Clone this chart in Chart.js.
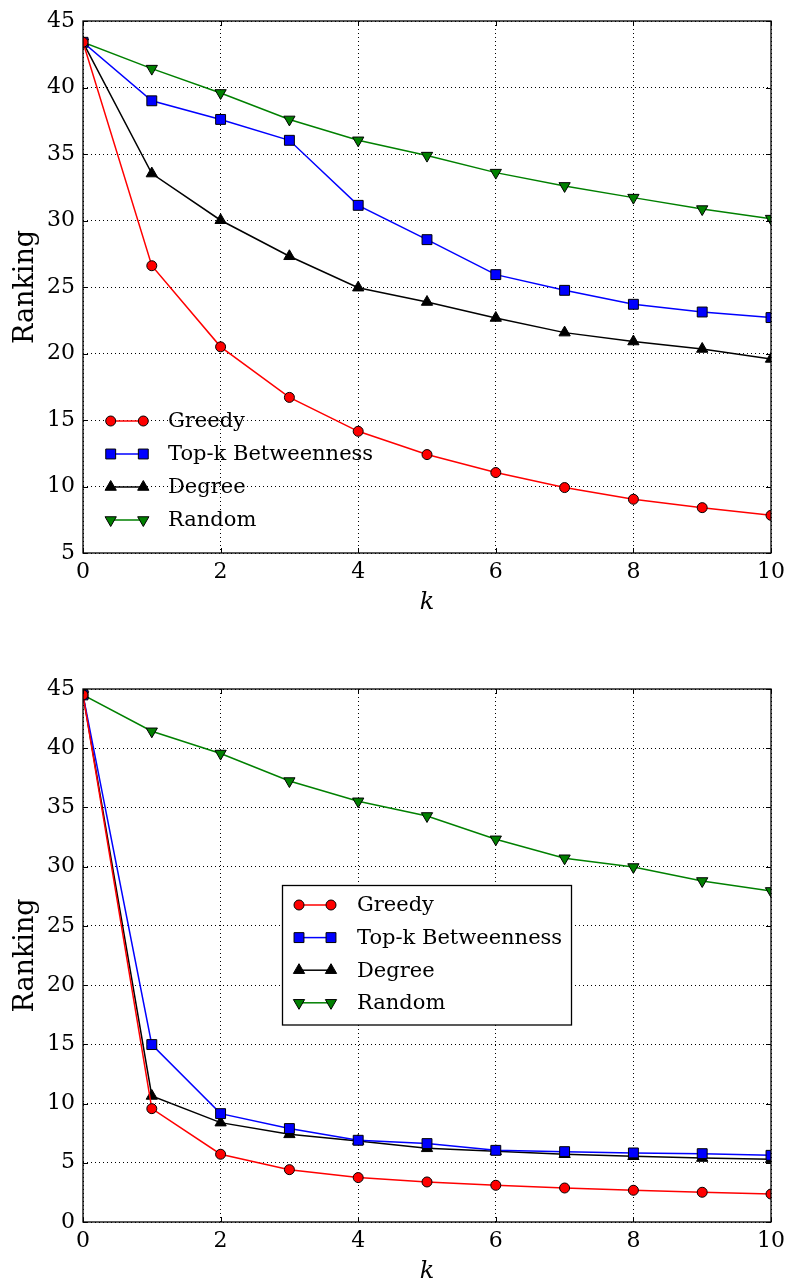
<!DOCTYPE html>
<html>
<head>
<meta charset="utf-8">
<script src="https://cdn.jsdelivr.net/npm/chart.js@4.4.1/dist/chart.umd.min.js"></script>
<style>
  html, body { margin: 0; padding: 0; background: #fff; }
  #wrap { position: relative; width: 788px; height: 1285px; }
  canvas { position: absolute; left: 0; }
</style>
</head>
<body>
<div id="wrap">
  <canvas id="c1" width="788" height="616" style="top:0px"></canvas>
  <canvas id="c2" width="788" height="635" style="top:650px"></canvas>
</div>
<script>
// ---- data ----
const kValues = [0, 1, 2, 3, 4, 5, 6, 7, 8, 9, 10];
const seriesNames = ['Greedy', 'Top-k Betweenness', 'Degree', 'Random'];

const topGreedy      = [43.4, 26.6, 20.5, 16.7, 14.15, 12.4, 11.05, 9.92, 9.04, 8.41, 7.83];
const topBetweenness = [43.4, 39.0, 37.6, 36.03, 31.14, 28.56, 25.93, 24.75, 23.7, 23.12, 22.7];
const topDegree      = [43.4, 33.53, 30.02, 27.31, 24.95, 23.87, 22.67, 21.57, 20.9, 20.34, 19.59];
const topRandom      = [43.4, 41.42, 39.59, 37.6, 36.03, 34.88, 33.6, 32.6, 31.72, 30.86, 30.14];

const bottomGreedy      = [44.5, 9.57, 5.72, 4.42, 3.75, 3.38, 3.1, 2.87, 2.68, 2.51, 2.36];
const bottomBetweenness = [44.5, 14.98, 9.15, 7.89, 6.9, 6.62, 6.05, 5.94, 5.83, 5.77, 5.63];
const bottomDegree      = [44.5, 10.64, 8.39, 7.4, 6.84, 6.22, 5.97, 5.72, 5.55, 5.4, 5.29];
const bottomRandom      = [44.5, 41.43, 39.55, 37.23, 35.52, 34.28, 32.31, 30.71, 29.97, 28.79, 27.95];

const xTicks = [0, 2, 4, 6, 8, 10];
const yTicksTop = [5, 10, 15, 20, 25, 30, 35, 40, 45];
const yTicksBottom = [0, 5, 10, 15, 20, 25, 30, 35, 40, 45];

// ---- styles ----
const FONT = '"DejaVu Serif", "Liberation Serif", serif';
const styles = [
  { color: '#ff0000', pointStyle: 'circle',   radius: 5,   rotation: 0 },
  { color: '#0000ff', pointStyle: 'rect',     radius: 7,   rotation: 0 },
  { color: '#000000', pointStyle: 'triangle', radius: 6.5, rotation: 0 },
  { color: '#008000', pointStyle: 'triangle', radius: 6.5, rotation: 180 }
];

function makeDatasets(arrs) {
  return arrs.map((vals, i) => ({
    label: seriesNames[i],
    data: kValues.map((k, j) => ({ x: k, y: vals[j] })),
    borderColor: styles[i].color,
    backgroundColor: styles[i].color,
    pointBackgroundColor: styles[i].color,
    pointBorderColor: '#000',
    pointBorderWidth: 1,
    pointStyle: styles[i].pointStyle,
    pointRadius: styles[i].radius,
    pointRotation: styles[i].rotation,
    borderWidth: 1.5,
    tension: 0,
    clip: 0
  }));
}

const framePlugin = {
  id: 'frame',
  afterDatasetsDraw(chart) {
    const { ctx, chartArea: a, scales } = chart;
    ctx.save();
    ctx.strokeStyle = '#000';
    ctx.lineWidth = 1;
    ctx.setLineDash([]);
    const L = 5;
    ctx.beginPath();
    scales.x.ticks.forEach(t => {
      const px = Math.round(scales.x.getPixelForValue(t.value)) + 0.5;
      ctx.moveTo(px, a.bottom); ctx.lineTo(px, a.bottom - L);
      ctx.moveTo(px, a.top); ctx.lineTo(px, a.top + L);
    });
    scales.y.ticks.forEach(t => {
      const py = Math.round(scales.y.getPixelForValue(t.value)) + 0.5;
      ctx.moveTo(a.left, py); ctx.lineTo(a.left + L, py);
      ctx.moveTo(a.right, py); ctx.lineTo(a.right - L, py);
    });
    ctx.stroke();
    ctx.lineWidth = 1.3;
    ctx.strokeRect(a.left, a.top, a.right - a.left, a.bottom - a.top);
    ctx.restore();
  }
};

const legendPlugin = {
  id: 'pltLegend',
  afterDraw(chart, args, opts) {
    const { ctx } = chart;
    ctx.save();
    if (opts.frame) {
      const f = opts.frame;
      ctx.fillStyle = '#fff';
      ctx.fillRect(f.x, f.y, f.w, f.h);
      ctx.strokeStyle = '#000';
      ctx.lineWidth = 1.3;
      ctx.strokeRect(f.x, f.y, f.w, f.h);
    }
    chart.data.datasets.forEach((ds, i) => {
      const y = opts.y + i * opts.rowH;
      ctx.strokeStyle = ds.borderColor;
      ctx.lineWidth = ds.borderWidth;
      ctx.beginPath();
      ctx.moveTo(opts.x1, y); ctx.lineTo(opts.x2, y);
      ctx.stroke();
      const ps = {
        pointStyle: ds.pointStyle, radius: ds.pointRadius, rotation: ds.pointRotation,
        borderWidth: 1
      };
      ctx.fillStyle = ds.pointBackgroundColor;
      ctx.strokeStyle = '#000';
      ctx.lineWidth = 1;
      Chart.helpers.drawPoint(ctx, ps, opts.x1, y);
      ctx.fillStyle = ds.pointBackgroundColor;
      ctx.strokeStyle = '#000';
      Chart.helpers.drawPoint(ctx, ps, opts.x2, y);
      ctx.fillStyle = '#000';
      ctx.font = '21px ' + FONT;
      ctx.textBaseline = 'middle';
      ctx.textAlign = 'left';
      ctx.fillText(ds.label, opts.tx, y + 1);
    });
    ctx.restore();
  }
};

function makeChart(id, arrs, yTicks, padTop, xAxisH, legendOpts) {
  const tickFont = { family: FONT, size: 22 };
  return new Chart(document.getElementById(id), {
    type: 'line',
    data: { datasets: makeDatasets(arrs) },
    plugins: [framePlugin, legendPlugin],
    options: {
      responsive: false,
      animation: false,
      events: [],
      layout: { padding: { left: 0, right: 17, top: padTop, bottom: 0 } },
      plugins: {
        legend: { display: false },
        tooltip: { enabled: false },
        pltLegend: legendOpts
      },
      scales: {
        x: {
          type: 'linear',
          min: xTicks[0], max: xTicks[xTicks.length - 1],
          afterBuildTicks: s => { s.ticks = xTicks.map(v => ({ value: v })); },
          afterFit: s => { s.height = xAxisH; s.paddingLeft = 0; s.paddingRight = 0; },
          grid: { color: '#000', lineWidth: 1, drawTicks: false },
          border: { display: false, dash: [1, 3] },
          ticks: { font: tickFont, color: '#000', padding: 6, maxRotation: 0 },
          title: {
            display: true, text: 'k', color: '#000',
            font: { family: FONT, size: 24, style: 'italic', lineHeight: 1 },
            padding: { top: 0, bottom: 1 }
          }
        },
        y: {
          type: 'linear',
          min: yTicks[0], max: yTicks[yTicks.length - 1],
          afterBuildTicks: s => { s.ticks = yTicks.map(v => ({ value: v })); },
          afterFit: s => { s.width = 83; s.paddingTop = 0; s.paddingBottom = 0; },
          grid: { color: '#000', lineWidth: 1, drawTicks: false },
          border: { display: false, dash: [1, 3] },
          ticks: { font: tickFont, color: '#000', padding: 8 },
          title: {
            display: true, text: 'Ranking', color: '#000',
            font: { family: FONT, size: 27, lineHeight: 1 },
            padding: { top: 12, bottom: 0 }
          }
        }
      }
    }
  });
}

makeChart('c1', [topGreedy, topBetweenness, topDegree, topRandom], yTicksTop, 21, 63,
  { x1: 110.7, x2: 143.3, tx: 168, y: 421, rowH: 33 });
makeChart('c2', [bottomGreedy, bottomBetweenness, bottomDegree, bottomRandom], yTicksBottom, 39, 63,
  { x1: 299, x2: 331, tx: 357, y: 255, rowH: 32.6, frame: { x: 282.5, y: 235.5, w: 289, h: 139.5 } });
</script>
</body>
</html>
